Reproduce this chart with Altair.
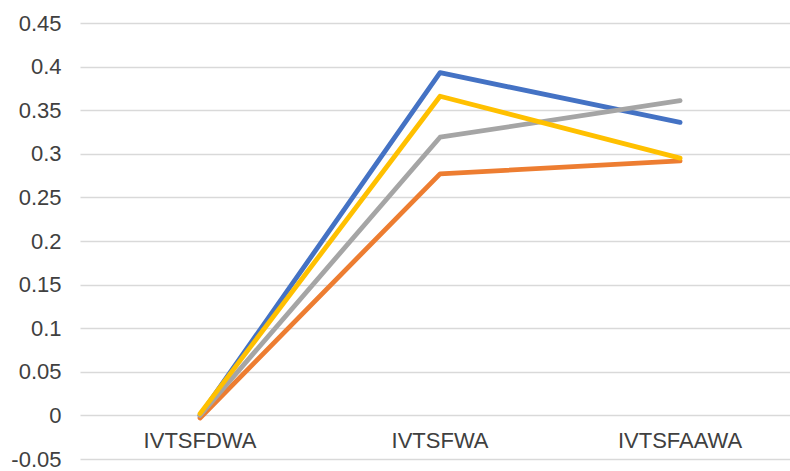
import altair as alt
import pandas as pd

# Categories along the x axis
categories = ["IVTSFDWA", "IVTSFWA", "IVTSFAAWA"]

# One list of values per series, in category order
series_names = ["Series1", "Series2", "Series3", "Series4"]
series1 = [0.000, 0.393, 0.336]
series2 = [-0.003, 0.277, 0.292]
series3 = [0.000, 0.319, 0.361]
series4 = [0.002, 0.366, 0.295]
series_colors = ["#4472C4", "#ED7D31", "#A5A5A5", "#FFC000"]

# Y axis tick values
y_ticks = [-0.05, 0.0, 0.05, 0.1, 0.15, 0.2, 0.25, 0.3, 0.35, 0.4, 0.45]

rows = []
for name, vals in zip(series_names, [series1, series2, series3, series4]):
    for cat, v in zip(categories, vals):
        rows.append({"category": cat, "series": name, "value": v})
df = pd.DataFrame(rows)
cat_df = pd.DataFrame({"category": categories})

FONT = "Liberation Sans"
TEXT_COLOR = "#404040"
FONT_SIZE = 22

x_scale = alt.Scale(domain=categories, type="point", padding=0.479, align=0.522)
y_scale = alt.Scale(domain=[-0.05, 0.45], nice=False, zero=False)

lines = alt.Chart(df).mark_line(
    strokeWidth=4.8, strokeCap="round", strokeJoin="round"
).encode(
    x=alt.X("category:N", scale=x_scale, axis=None),
    y=alt.Y(
        "value:Q",
        scale=y_scale,
        title=None,
        axis=alt.Axis(
            values=y_ticks,
            labelExpr="'' + round(datum.value * 100) / 100",
            domain=False,
            ticks=False,
            grid=True,
            gridColor="#D9D9D9",
            gridWidth=1.5,
            labelFont=FONT,
            labelFontSize=FONT_SIZE,
            labelColor=TEXT_COLOR,
            labelPadding=19,
        ),
    ),
    color=alt.Color(
        "series:N",
        scale=alt.Scale(domain=series_names, range=series_colors),
        legend=None,
    ),
    order=alt.Order("series:N"),
)

# Category labels sit just below the zero line
cat_labels = alt.Chart(cat_df).mark_text(
    font=FONT, fontSize=FONT_SIZE, color=TEXT_COLOR, baseline="middle", dy=26
).encode(
    x=alt.X("category:N", scale=x_scale, axis=None),
    y=alt.datum(0),
    text="category:N",
)

chart = alt.layer(lines, cat_labels).properties(
    width=710,
    height=436,
    background="white",
    padding={"left": 80, "top": 23, "right": 0, "bottom": 12},
    autosize=alt.AutoSizeParams(type="none"),
).configure_view(stroke=None)

chart.save("out.html", embed_options={"renderer": "svg", "actions": False})
